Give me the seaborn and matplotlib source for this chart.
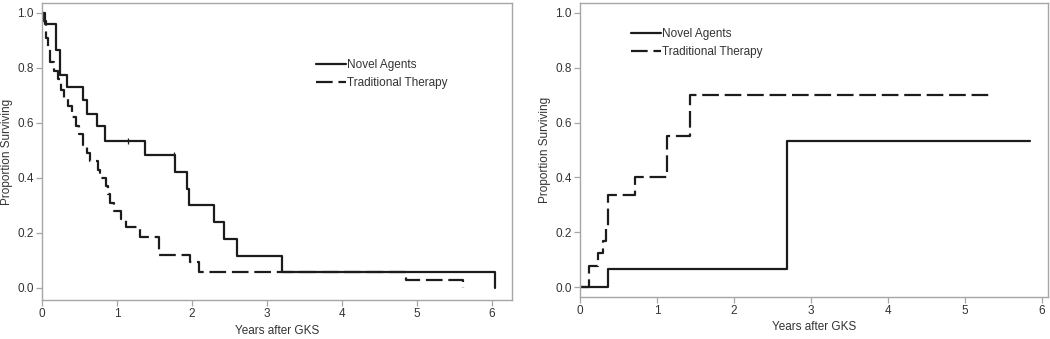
import matplotlib
matplotlib.use("Agg")
import matplotlib.pyplot as plt
import seaborn as sns
import pandas as pd

# ---- data ----
# Left panel: Kaplan-Meier survival steps (time in years, proportion)
left_novel_t = [0.00, 0.04, 0.19, 0.24, 0.34, 0.55, 0.60, 0.74, 0.84, 1.38, 1.78, 1.93, 1.96, 2.30, 2.43, 2.60, 3.20, 6.04]
left_novel_s = [1.00, 0.959, 0.865, 0.775, 0.73, 0.684, 0.632, 0.587, 0.536, 0.484, 0.423, 0.36, 0.302, 0.241, 0.178, 0.117, 0.057, 0.0]
left_novel_cens_t = [1.15, 1.76]
left_novel_cens_s = [0.536, 0.484]

left_trad_t = [0.00, 0.02, 0.05, 0.08, 0.11, 0.16, 0.21, 0.25, 0.30, 0.35, 0.40, 0.45, 0.50, 0.55, 0.60, 0.64,
               0.75, 0.78, 0.85, 0.88, 0.91, 0.96, 1.06, 1.12, 1.31, 1.56, 1.97, 2.09, 4.86, 5.62]
left_trad_s = [1.00, 0.97, 0.91, 0.87, 0.82, 0.79, 0.76, 0.72, 0.69, 0.66, 0.62, 0.59, 0.56, 0.52, 0.49, 0.46,
               0.43, 0.40, 0.37, 0.34, 0.31, 0.28, 0.25, 0.22, 0.184, 0.12, 0.096, 0.059, 0.027, 0.0]

# Right panel
right_novel_t = [0.00, 0.37, 2.69, 5.85]
right_novel_s = [0.00, 0.065, 0.533, 0.533]
right_trad_t = [0.00, 0.12, 0.23, 0.30, 0.34, 0.37, 0.71, 1.13, 1.43, 5.31]
right_trad_s = [0.00, 0.077, 0.125, 0.17, 0.22, 0.336, 0.40, 0.552, 0.70, 0.70]

series_labels = ["Novel Agents", "Traditional Therapy"]
x_ticks = [0, 1, 2, 3, 4, 5, 6]
y_ticks = [0.0, 0.2, 0.4, 0.6, 0.8, 1.0]
x_label = "Years after GKS"
y_label = "Proportion Surviving"

# ---- style ----
sns.set_theme(style="white")
plt.rcParams["font.family"] = ["Liberation Sans", "DejaVu Sans"]
TXT = "#333333"
SPINE = "#a6a6a6"
LINE = "#1c1c1c"
LW = 1.6
DASH = (0, (7.5, 2.6))

fig = plt.figure(figsize=(10.5, 3.39), dpi=100)
axL = fig.add_axes([42/1050, 1-300/339, (512-42)/1050, (300-3)/339])
axR = fig.add_axes([580/1050, 1-297/339, (1048-580)/1050, (297-3)/339])


def draw(ax, nt, ns, tt, ts, xmax, ymin):
    dn = pd.DataFrame({"t": nt, "s": ns})
    dt = pd.DataFrame({"t": tt, "s": ts})
    sns.lineplot(data=dn, x="t", y="s", ax=ax, drawstyle="steps-post", estimator=None,
                 sort=False, color=LINE, lw=LW, label=series_labels[0])
    sns.lineplot(data=dt, x="t", y="s", ax=ax, drawstyle="steps-post", estimator=None,
                 sort=False, color=LINE, lw=LW, linestyle=DASH, label=series_labels[1])
    ax.set_xlim(0, xmax)
    ax.set_ylim(ymin, 1.036)
    ax.set_xticks(x_ticks)
    ax.set_xticklabels([str(v) for v in x_ticks])
    ax.set_yticks(y_ticks)
    ax.set_yticklabels([f"{v:.1f}" for v in y_ticks])
    for sp in ax.spines.values():
        sp.set_color(SPINE)
        sp.set_linewidth(1.0)
        sp.set_visible(True)
    ax.tick_params(axis="both", direction="out", length=4, width=0.9, color=SPINE,
                   labelsize=8.5, labelcolor=TXT, pad=2, bottom=True, left=True)
    ax.set_xlabel(x_label, fontsize=8.5, color=TXT, labelpad=3)
    ax.set_ylabel(y_label, fontsize=8.5, color=TXT, labelpad=3)
    ax.grid(False)


draw(axL, left_novel_t, left_novel_s, left_trad_t, left_trad_s, 6.27, -0.044)
sns.scatterplot(x=left_novel_cens_t, y=left_novel_cens_s, ax=axL, marker="|", s=25,
                color=LINE, linewidth=0.9, legend=False)
draw(axR, right_novel_t, right_novel_s, right_trad_t, right_trad_s, 6.08, -0.036)

for ax, anchor in [(axL, (316/1050, 1-59/339)), (axR, (631/1050, 1-28/339))]:
    h, l = ax.get_legend_handles_labels()
    leg = ax.legend(h[:2], l[:2], loc="upper left", bbox_to_anchor=anchor,
                    bbox_transform=fig.transFigure, frameon=False, fontsize=8.5,
                    handlelength=2.5, handletextpad=0.15, labelspacing=0.5,
                    borderpad=0, borderaxespad=0)
    for t in leg.get_texts():
        t.set_color(TXT)

fig.savefig("out.png", dpi=100)
